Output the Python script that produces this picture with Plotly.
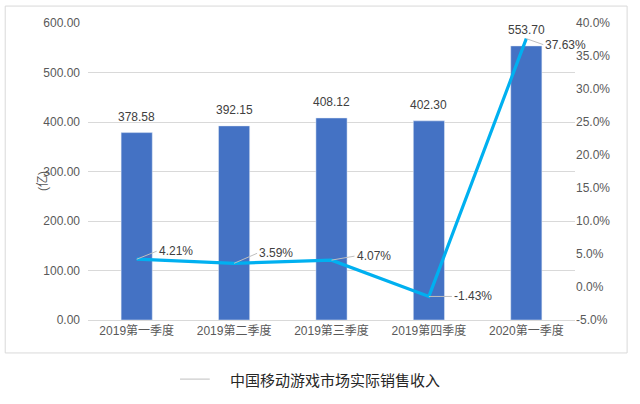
import plotly.graph_objects as go

quarters = ["2019第一季度", "2019第二季度", "2019第三季度", "2019第四季度", "2020第一季度"]
revenue = [378.58, 392.15, 408.12, 402.30, 553.70]
growth = [4.21, 3.59, 4.07, -1.43, 37.63]
left_ticks = [0, 100, 200, 300, 400, 500, 600]
right_ticks = [-5, 0, 5, 10, 15, 20, 25, 30, 35, 40]
legend_name = "中国移动游戏市场实际销售收入"
unit_label = "(亿)"

font_family = "Liberation Sans, Noto Sans CJK SC, Arial, sans-serif"
grey_text = "#595959"
grid = "#D9D9D9"

fig = go.Figure()

fig.add_trace(go.Bar(
    x=quarters, y=revenue,
    marker_color="#4472C4",
    width=0.32,
    showlegend=False,
))

fig.add_trace(go.Scatter(
    x=quarters, y=growth, yaxis="y2",
    mode="lines",
    line=dict(color="#00B0F0", width=3.2),
    showlegend=False,
))

# value labels above the bars
for q, v in zip(quarters, revenue):
    fig.add_annotation(
        x=q, y=v, xref="x", yref="y",
        text="%.2f" % v, showarrow=False,
        yanchor="bottom", yshift=7,
        font=dict(size=12, color="#404040"),
    )

# leader-line labels for the growth rate
offsets = [(20, -8), (23, -10), (23, -4), (23, 0), (17, 6)]
for q, g, (ax, ay) in zip(quarters, growth, offsets):
    fig.add_annotation(
        x=q, y=g, xref="x", yref="y2",
        text="%.2f%%" % g,
        showarrow=True, arrowhead=0, arrowwidth=1, arrowcolor="#BFBFBF",
        ax=ax, ay=ay, xanchor="left", yanchor="middle",
        font=dict(size=12, color="#404040"),
    )

# axis unit label
fig.add_annotation(x=-0.113, y=0.47, xref="paper", yref="paper",
                   text=unit_label, showarrow=False, textangle=-90,
                   font=dict(size=12, color=grey_text))

# outer frame
fig.add_shape(type="rect", xref="paper", yref="paper",
              x0=-0.170, x1=1.107, y0=-0.111, y1=1.057,
              line=dict(color=grid, width=1), layer="below")

# legend drawn below the frame
fig.add_shape(type="line", xref="paper", yref="paper",
              x0=0.189, x1=0.25, y0=-0.199, y1=-0.199,
              line=dict(color="#BFBFBF", width=1))
fig.add_annotation(x=0.287, y=-0.199, xref="paper", yref="paper",
                   text=legend_name, showarrow=False,
                   xanchor="left", yanchor="middle",
                   font=dict(size=15, color="#262626", family="Noto Sans CJK SC"))

fig.update_layout(
    width=640, height=404,
    margin=dict(l=88, r=65, t=23, b=84),
    paper_bgcolor="white", plot_bgcolor="white",
    font=dict(family=font_family, size=12, color=grey_text),
    xaxis=dict(
        range=[-0.5, 4.5],
        showline=True, linecolor=grid, linewidth=1, automargin=False,
        ticks="", tickfont=dict(size=12, color=grey_text),
    ),
    yaxis=dict(
        range=[0, 600], tickvals=left_ticks,
        ticktext=["%.2f" % v for v in left_ticks],
        showgrid=True, gridcolor=grid, zeroline=False, automargin=False,
        tickfont=dict(size=12, color=grey_text), ticklabelstandoff=7,
    ),
    yaxis2=dict(
        overlaying="y", side="right",
        range=[-5, 40], tickvals=right_ticks,
        ticktext=["%.1f%%" % v for v in right_ticks],
        showgrid=False, zeroline=False, automargin=False,
        tickfont=dict(size=12, color=grey_text),
    ),
)

fig.write_html("out.html", config={"displayModeBar": False},
               post_script="document.body.style.margin='0';")
